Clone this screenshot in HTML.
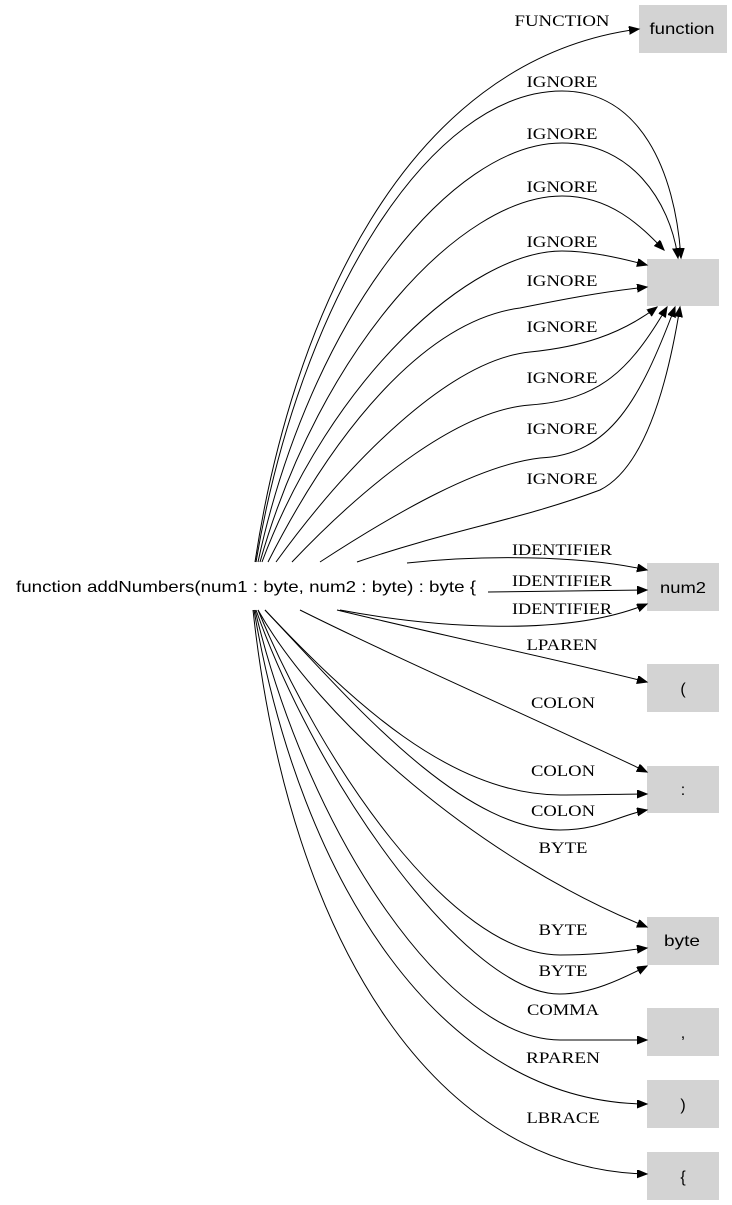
<!DOCTYPE html>
<html><head><meta charset="utf-8"><style>
html,body{margin:0;padding:0;background:#fff;}
svg{display:block;}
.l{font-family:"Liberation Serif",serif;font-size:16px;text-anchor:middle;}
.n{font-family:"Liberation Sans",sans-serif;font-size:16px;text-anchor:middle;}
path{fill:none;stroke:#000;stroke-width:1;}
</style></head><body>
<svg width="732" height="1205" viewBox="0 0 732 1205">
<defs><marker id="a" markerUnits="userSpaceOnUse" markerWidth="12" markerHeight="10" refX="10" refY="4" orient="auto"><path d="M0,0 L10,4 L0,8 Z" style="fill:#000;stroke:#000"/></marker></defs>
<g fill="#d3d3d3">
<rect x="639" y="5" width="88" height="48"/>
<rect x="647" y="259" width="72" height="47"/>
<rect x="647" y="563" width="72" height="48"/>
<rect x="647" y="664" width="72" height="48"/>
<rect x="647" y="766" width="72" height="47"/>
<rect x="647" y="917" width="72" height="48"/>
<rect x="647" y="1008" width="72" height="48"/>
<rect x="647" y="1080" width="72" height="48"/>
<rect x="647" y="1152" width="72" height="48"/>
</g>
<g class="n">
<text x="682" y="34" textLength="65" lengthAdjust="spacingAndGlyphs">function</text>
<text x="683" y="593" textLength="46" lengthAdjust="spacingAndGlyphs">num2</text>
<text x="683" y="694">(</text>
<text x="683" y="795">:</text>
<text x="682" y="946" textLength="36" lengthAdjust="spacingAndGlyphs">byte</text>
<text x="683" y="1038">,</text>
<text x="683" y="1110">)</text>
<text x="683" y="1182">{</text>
<text x="246" y="592" textLength="460" lengthAdjust="spacingAndGlyphs">function addNumbers(num1 : byte, num2 : byte) : byte {</text>
</g>
<g marker-end="url(#a)">
<path d="M255,562 C290,330 400,60 639,29"/>
<path d="M256,562 C300,300 430,91 562,91 C640,91 675,170 681,258"/>
<path d="M258,562 C310,320 450,143 562,143 C630,143 670,200 678,258"/>
<path d="M260,562 C320,350 460,196 562,196 C610,196 640,225 664,250"/>
<path d="M262,562 C330,380 470,251 562,251 C590,251 620,258 647,265"/>
<path d="M268,562 C340,420 430,320 520,308 C560,300 600,292 647,287"/>
<path d="M276,562 C350,460 450,360 530,352 C580,347 620,335 657,307"/>
<path d="M292,562 C370,480 460,410 530,405 C600,400 630,370 667,307"/>
<path d="M320,562 C400,510 480,465 540,458 C610,455 640,400 675,307"/>
<path d="M357,562 C450,530 520,520 600,490 C640,470 665,400 680,307"/>
<path d="M407,563 C480,555 580,555 647,570"/>
<path d="M488,592 L647,590"/>
<path d="M340,610 C420,625 560,640 647,604"/>
<path d="M337,610 C440,635 560,660 647,682"/>
<path d="M300,610 C400,660 560,730 647,772"/>
<path d="M265,610 C350,700 450,795 560,795 C600,795 620,794 647,794"/>
<path d="M265,610 C350,700 460,830 560,830 C600,830 620,815 647,810"/>
<path d="M258,610 C320,720 480,860 647,927"/>
<path d="M258,610 C320,760 450,955 560,955 C600,955 620,951 647,948"/>
<path d="M256,610 C320,790 470,995 560,994 C590,994 620,980 647,966"/>
<path d="M255,610 C310,840 450,1040 560,1040 L647,1040"/>
<path d="M254,610 C300,880 440,1103 647,1104"/>
<path d="M253,610 C290,950 440,1170 647,1174"/>
</g>
<g class="l">
<text x="562" y="26" textLength="95" lengthAdjust="spacingAndGlyphs">FUNCTION</text>
<text x="562" y="87" textLength="71" lengthAdjust="spacingAndGlyphs">IGNORE</text>
<text x="562" y="139" textLength="71" lengthAdjust="spacingAndGlyphs">IGNORE</text>
<text x="562" y="192" textLength="71" lengthAdjust="spacingAndGlyphs">IGNORE</text>
<text x="562" y="247" textLength="71" lengthAdjust="spacingAndGlyphs">IGNORE</text>
<text x="562" y="286" textLength="71" lengthAdjust="spacingAndGlyphs">IGNORE</text>
<text x="562" y="332" textLength="71" lengthAdjust="spacingAndGlyphs">IGNORE</text>
<text x="562" y="383" textLength="71" lengthAdjust="spacingAndGlyphs">IGNORE</text>
<text x="562" y="434" textLength="71" lengthAdjust="spacingAndGlyphs">IGNORE</text>
<text x="562" y="484" textLength="71" lengthAdjust="spacingAndGlyphs">IGNORE</text>
<text x="562" y="555" textLength="100" lengthAdjust="spacingAndGlyphs">IDENTIFIER</text>
<text x="562" y="586" textLength="100" lengthAdjust="spacingAndGlyphs">IDENTIFIER</text>
<text x="562" y="614" textLength="100" lengthAdjust="spacingAndGlyphs">IDENTIFIER</text>
<text x="562" y="650" textLength="71" lengthAdjust="spacingAndGlyphs">LPAREN</text>
<text x="563" y="708" textLength="64" lengthAdjust="spacingAndGlyphs">COLON</text>
<text x="563" y="776" textLength="64" lengthAdjust="spacingAndGlyphs">COLON</text>
<text x="563" y="816" textLength="64" lengthAdjust="spacingAndGlyphs">COLON</text>
<text x="563" y="853" textLength="49" lengthAdjust="spacingAndGlyphs">BYTE</text>
<text x="563" y="935" textLength="49" lengthAdjust="spacingAndGlyphs">BYTE</text>
<text x="563" y="976" textLength="49" lengthAdjust="spacingAndGlyphs">BYTE</text>
<text x="563" y="1015" textLength="72" lengthAdjust="spacingAndGlyphs">COMMA</text>
<text x="563" y="1063" textLength="74" lengthAdjust="spacingAndGlyphs">RPAREN</text>
<text x="563" y="1123" textLength="73" lengthAdjust="spacingAndGlyphs">LBRACE</text>
</g>
</svg>
</body></html>
